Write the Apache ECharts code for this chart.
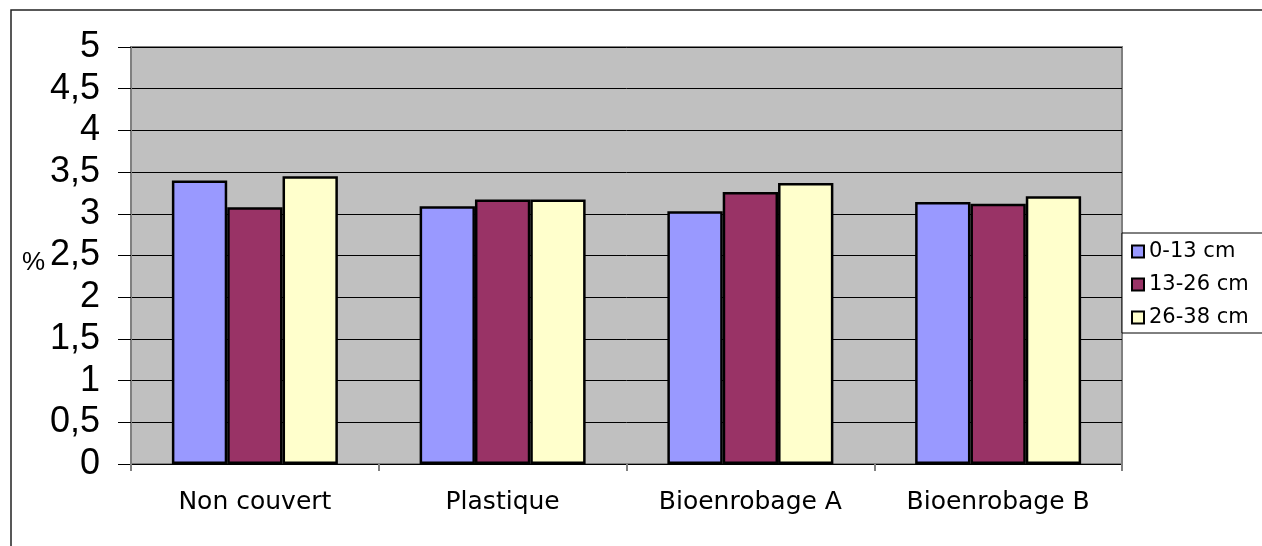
<!DOCTYPE html>
<html>
<head>
<meta charset="utf-8">
<title>Teneur par profondeur</title>
<script src="https://cdn.jsdelivr.net/npm/echarts@6/dist/echarts.min.js"></script>
<style>
  html, body { margin: 0; padding: 0; background: #ffffff; }
  #chart { width: 1262px; height: 546px; }
</style>
</head>
<body>
<div id="chart"></div>
<script>
// Treatments along the x axis
const categories = ['Non couvert', 'Plastique', 'Bioenrobage A', 'Bioenrobage B'];

// Values (%) for each soil depth
const depth0to13 = [3.40, 3.09, 3.03, 3.14];
const depth13to26 = [3.08, 3.17, 3.26, 3.12];
const depth26to38 = [3.45, 3.17, 3.37, 3.21];

const seriesNames = ['0-13 cm', '13-26 cm', '26-38 cm'];

// Y axis tick labels (decimal comma)
const yTickLabels = ['0', '0,5', '1', '1,5', '2', '2,5', '3', '3,5', '4', '4,5', '5'];

const colors = ['#9999FF', '#993366', '#FFFFCC'];

const chart = echarts.init(document.getElementById('chart'), null, { renderer: 'canvas' });

const barStyle = (c) => ({ color: c, borderColor: '#000000', borderWidth: 2.5 });

chart.setOption({
  animation: false,
  backgroundColor: '#ffffff',
  graphic: [
    {
      type: 'rect',
      silent: true,
      shape: { x: 11, y: 10, width: 1400, height: 700 },
      style: { fill: 'none', stroke: '#222222', lineWidth: 1.5 }
    },
    {
      type: 'text',
      silent: true,
      x: 22,
      y: 250,
      style: {
        text: '%',
        fontSize: 26,
        fontFamily: '"Liberation Sans", Arial, sans-serif',
        fill: '#000000'
      }
    }
  ],
  grid: {
    left: 131,
    top: 47,
    right: 140,
    bottom: 82,
    show: true,
    backgroundColor: '#C0C0C0',
    borderColor: '#808080',
    borderWidth: 2
  },
  legend: {
    data: seriesNames,
    orient: 'vertical',
    icon: 'rect',
    left: 1122,
    top: 233,
    itemWidth: 12,
    itemHeight: 12,
    itemGap: 12,
    padding: [8, 60, 5, 9],
    borderColor: '#000000',
    borderWidth: 1,
    backgroundColor: '#ffffff',
    itemStyle: { borderColor: '#000000', borderWidth: 2 },
    textStyle: {
      fontFamily: '"DejaVu Sans", sans-serif',
      fontSize: 21,
      lineHeight: 21,
      color: '#000000'
    }
  },
  xAxis: {
    type: 'category',
    data: categories,
    axisLine: { show: true, lineStyle: { color: '#000000', width: 1 } },
    axisTick: { show: true, length: 7, lineStyle: { color: '#808080', width: 2 } },
    axisLabel: {
      margin: 26,
      fontFamily: '"DejaVu Sans", sans-serif',
      fontSize: 25,
      color: '#000000'
    },
    splitLine: { show: false }
  },
  yAxis: {
    type: 'value',
    min: 0,
    max: 5,
    interval: 0.5,
    axisLine: { show: true, lineStyle: { color: '#808080', width: 2 } },
    axisTick: { show: true, length: 13, lineStyle: { color: '#000000', width: 1 } },
    axisLabel: {
      margin: 31,
      fontFamily: '"Liberation Sans", Arial, sans-serif',
      fontSize: 36,
      color: '#000000',
      formatter: (v) => yTickLabels[Math.round(v / 0.5)]
    },
    splitLine: { show: true, lineStyle: { color: '#000000', width: 1 } }
  },
  series: [
    { name: seriesNames[0], type: 'bar', data: depth0to13, itemStyle: barStyle(colors[0]), barGap: '0%', barCategoryGap: '33%' },
    { name: seriesNames[1], type: 'bar', data: depth13to26, itemStyle: barStyle(colors[1]), barGap: '0%', barCategoryGap: '33%' },
    { name: seriesNames[2], type: 'bar', data: depth26to38, itemStyle: barStyle(colors[2]), barGap: '0%', barCategoryGap: '33%' }
  ]
});
</script>
</body>
</html>
